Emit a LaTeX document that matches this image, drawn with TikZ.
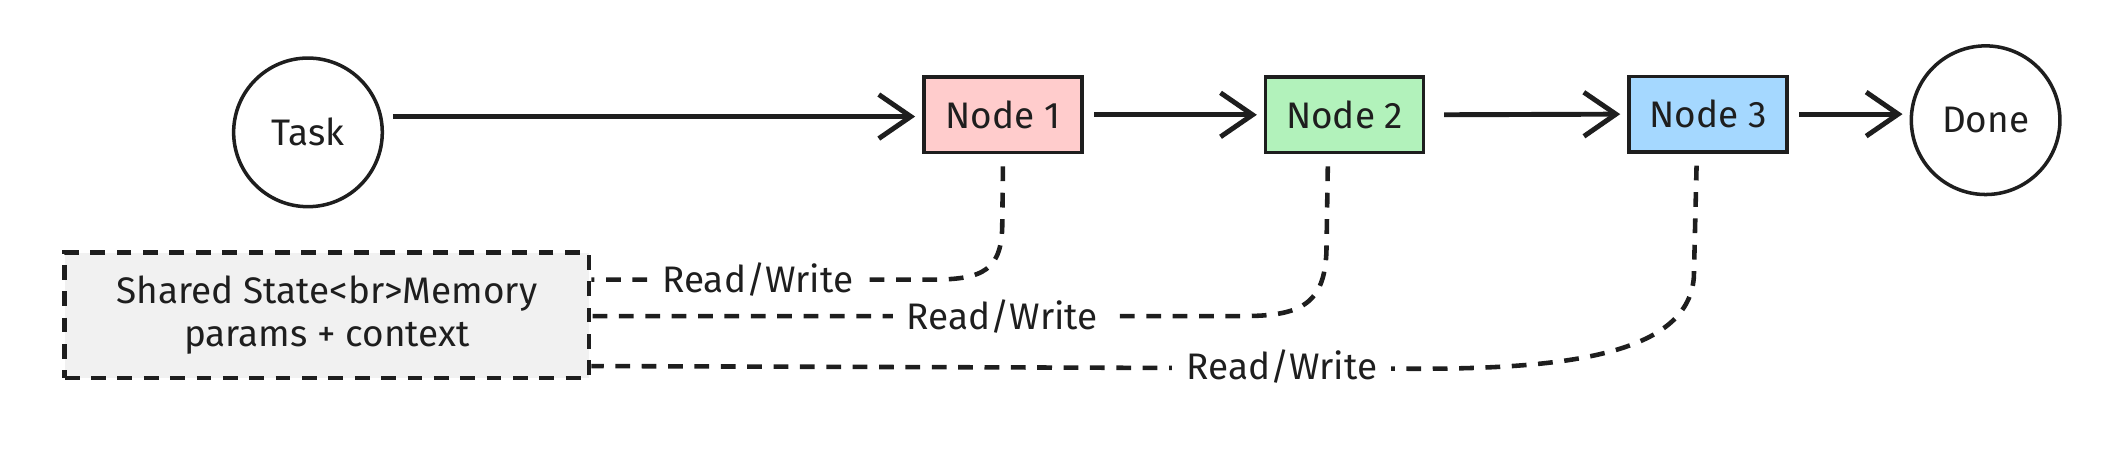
\documentclass[tikz,border=0pt]{standalone}
\usepackage{fontspec}
\setmainfont{Fira Sans}
\usetikzlibrary{arrows.meta}
\definecolor{pinkfill}{RGB}{255,204,204}
\definecolor{greenfill}{RGB}{178,242,187}
\definecolor{bluefill}{RGB}{165,216,255}
\definecolor{grayfill}{RGB}{241,241,241}
\definecolor{ink}{RGB}{30,30,30}
\begin{document}
\begin{tikzpicture}[x=0.013508cm,y=-0.013508cm,
  font=\fontsize{10.5}{12.3}\selectfont,
  every node/.style={text=ink},
  stepbox/.style={draw=ink, line width=1pt, minimum width=1.58cm, minimum height=0.756cm, inner sep=0pt},
  endpoint/.style={draw=ink, circle, line width=1pt, minimum size=1.486cm, inner sep=0pt},
  membox/.style={draw=ink, fill=grayfill, line width=1.3pt, dash pattern=on 4.2pt off 3.3pt, minimum width=5.241cm, minimum height=1.256cm, align=center, inner sep=0pt},
  flow/.style={draw=ink, line width=1.4pt, -{Straight Barb[length=3.2mm, width=4.4mm, line width=1.4pt]}, shorten >=2pt, shorten <=3pt},
  rw/.style={draw=ink, line width=1.3pt, dash pattern=on 4.2pt off 3.3pt},
  rwlabel/.style={fill=white, inner xsep=4pt, inner ysep=1.5pt}
]
\useasboundingbox (0,0) rectangle (1568,336);

\node[endpoint] (task) at (228,98) {Task};
\node[stepbox, fill=pinkfill] (n1) at (742.5,85) {Node 1};
\node[stepbox, fill=greenfill] (n2) at (995.5,85) {Node 2};
\node[stepbox, fill=bluefill] (n3) at (1264.5,84.5) {Node 3};
\node[endpoint] (done) at (1470,89) {Done};
\node[membox] (mem) at (242,233.5) {Shared State<br>Memory\\params + context};

\draw[flow] (task.12) -- (task.12 -| n1.west);
\draw[flow] (n1.east) -- (n2.west);
\draw[flow] ([xshift=0.08cm]n2.east) -- (n3.west);
\draw[flow] (n3.east) -- (n3.east -| done.west);

\draw[rw] ([yshift=-0.12cm]n1.south) -- (742,165) .. controls (742,200) and (728,207) .. (690,207) -- (mem.east |- 0,207);
\draw[rw] ([yshift=-0.12cm]n2.south -| 983,0) -- (982,185) .. controls (981,226) and (962,234) .. (920,234) -- (mem.east |- 0,234);
\draw[rw] ([yshift=-0.12cm]n3.south -| 1256,0) -- (1254,205) .. controls (1250,262) and (1160,273) .. (1050,273) -- (mem.east |- 0,271);

\node[rwlabel] (l1) at (561,207) {Read/Write};
\node[rwlabel] (l2) at (742,234) {Read/Write};
\node[rwlabel] (l3) at (949,271) {Read/Write};
\end{tikzpicture}
\end{document}
